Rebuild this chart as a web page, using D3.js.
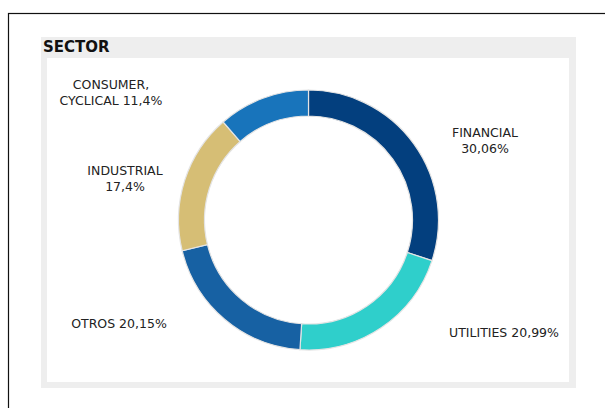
<!DOCTYPE html>
<html>
<head>
<meta charset="utf-8">
<script src="https://cdn.jsdelivr.net/npm/d3@7"></script>
<style>
    body { margin: 0; background: #fff; }
    text { font-family: "DejaVu Sans", Verdana, sans-serif; }
</style>
</head>
<body>
<div id="chart"></div>
<script>
// Sector split, clockwise from 12 o'clock.
var sectors = ["FINANCIAL", "UTILITIES", "OTROS", "INDUSTRIAL", "CONSUMER, CYCLICAL"];
var weights = [30.06, 20.99, 20.15, 17.4, 11.4];
var weightLabels = ["30,06%", "20,99%", "20,15%", "17,4%", "11,4%"];
var colors = ["#033f7e", "#2fcfcb", "#1761a3", "#d6be75", "#1874bb"];

// Label text lines as they wrap in the original.
var labelLines = [
    ["FINANCIAL", "30,06%"],
    ["UTILITIES 20,99%"],
    ["OTROS 20,15%"],
    ["INDUSTRIAL", "17,4%"],
    ["CONSUMER,", "CYCLICAL 11,4%"]
];

var width = 605;
var height = 408;

// Donut geometry.
var cx = 308.5, cy = 220;
var outer = 130, inner = 104;

// Where each label block sits (centre x, first baseline y).
var labelAnchor = [
    [485, 137],
    [504, 337],
    [119, 328],
    [125, 175],
    [111, 89]
];

var svg = d3.select("#chart")
    .append("svg")
    .attr("width", width)
    .attr("height", height);

// Outer frame, runs off the right and bottom edges.
svg.append("rect")
    .attr("x", 8.5).attr("y", 13.5)
    .attr("width", 640).attr("height", 420)
    .style("fill", "none")
    .style("stroke", "#111")
    .style("stroke-width", 1.2);

// Grey panel and white plot area.
svg.append("rect")
    .attr("x", 41).attr("y", 37)
    .attr("width", 535).attr("height", 351)
    .style("fill", "#eeeeee");

svg.append("rect")
    .attr("x", 47).attr("y", 58)
    .attr("width", 522).attr("height", 324)
    .style("fill", "#fff");

svg.append("text")
    .attr("x", 43)
    .attr("y", 52)
    .style("font-size", "15px")
    .style("font-weight", "bold")
    .style("fill", "#111")
    .text("SECTOR");

var data = sectors.map(function(s, i) {
    return { name: s, value: weights[i], color: colors[i], lines: labelLines[i], pos: labelAnchor[i] };
});

var pie = d3.pie()
    .sort(null)
    .value(function(d) { return d.value; });

var arc = d3.arc()
    .innerRadius(inner)
    .outerRadius(outer);

var g = svg.append("g")
    .attr("transform", "translate(" + cx + "," + cy + ")");

g.selectAll("path")
    .data(pie(data))
    .enter().append("path")
    .attr("d", arc)
    .style("fill", function(d) { return d.data.color; })
    .style("stroke", "#e4e4e4")
    .style("stroke-width", 1.2);

// Labels
var labels = svg.selectAll("text.lbl")
    .data(data)
    .enter().append("text")
    .attr("class", "lbl")
    .attr("text-anchor", "middle")
    .style("font-size", "12.5px")
    .style("fill", "#222");

labels.selectAll("tspan")
    .data(function(d) { return d.lines.map(function(t) { return { t: t, p: d.pos }; }); })
    .enter().append("tspan")
    .attr("x", function(d) { return d.p[0]; })
    .attr("y", function(d, i) { return d.p[1] + i * 15.5; })
    .text(function(d) { return d.t; });
</script>
</body>
</html>
